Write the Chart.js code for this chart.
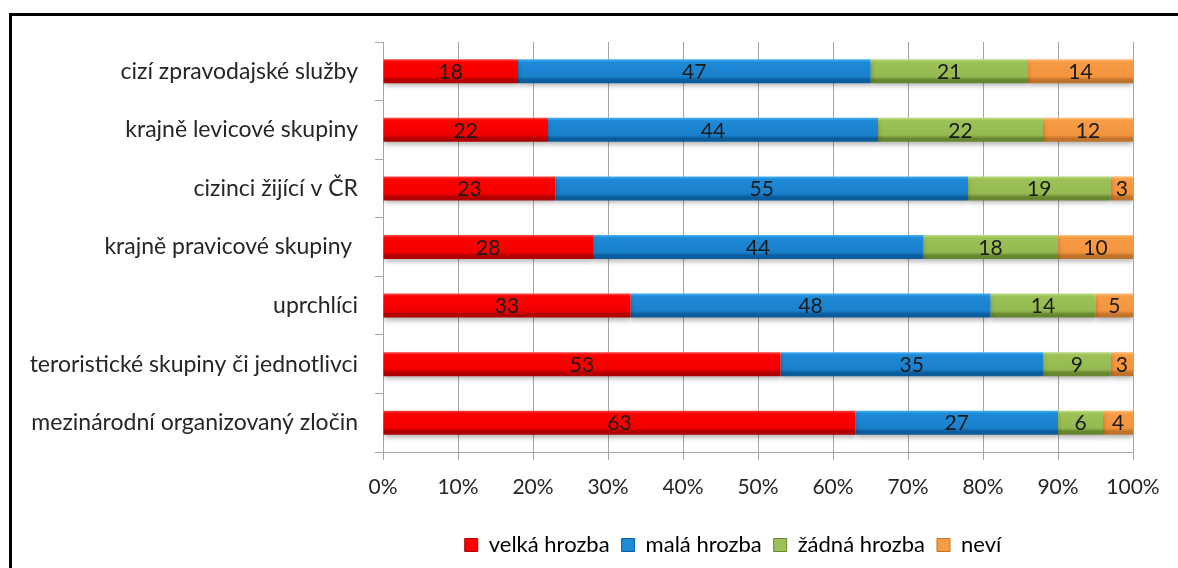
<!DOCTYPE html>
<html>
<head>
<meta charset="utf-8">
<script src="https://cdn.jsdelivr.net/npm/chart.js@4"></script>
<style>
  html, body { margin: 0; padding: 0; background: #fff; }
  #wrap { position: relative; width: 1178px; height: 568px; }
</style>
</head>
<body>
<div id="wrap"><canvas id="myChart" width="1178" height="568"></canvas></div>
<script>
const categories = [
  'cizí zpravodajské služby',
  'krajně levicové skupiny',
  'cizinci žijící v ČR',
  'krajně pravicové skupiny ',
  'uprchlíci',
  'teroristické skupiny či jednotlivci',
  'mezinárodní organizovaný zločin'
];
const seriesNames = ['velká hrozba', 'malá hrozba', 'žádná hrozba', 'neví'];
const velka = [18, 22, 23, 28, 33, 53, 63];
const mala = [47, 44, 55, 44, 48, 35, 27];
const zadna = [21, 22, 19, 18, 14, 9, 6];
const nevi = [14, 12, 3, 10, 5, 3, 4];
const xTicks = [0, 10, 20, 30, 40, 50, 60, 70, 80, 90, 100];

const FONT = 'Lato';

// top / body / bottom colours for the bevelled Excel look
const palette = [
  ['#ff4646', '#ff0000', '#f20000', '#b00000'],
  ['#44b0f4', '#1e8ad8', '#1a80cc', '#0b5c9c'],
  ['#bcdc82', '#9cc257', '#94b950', '#66862f'],
  ['#fcc07a', '#f89b45', '#f4943e', '#c0732a']
];

function barFill(i){
  return function(ctx){
    const p = palette[i];
    if (ctx.type !== 'data') return p[1];
    const y = ctx.chart.scales.y;
    if (!y || y.top === undefined) return p[1];
    const yc = y.getPixelForValue(ctx.dataIndex);
    const g = ctx.chart.ctx.createLinearGradient(0, yc - 12, 0, yc + 12);
    g.addColorStop(0, p[0]);
    g.addColorStop(0.12, p[1]);
    g.addColorStop(0.72, p[2]);
    g.addColorStop(0.86, p[3]);
    g.addColorStop(1, p[3]);
    return g;
  };
}

const values = [velka, mala, zadna, nevi];

const data = {
  labels: categories,
  datasets: values.map((v, i) => ({
    label: seriesNames[i],
    data: v,
    backgroundColor: barFill(i),
    borderWidth: 0,
    barPercentage: 0.41,
    categoryPercentage: 1
  }))
};

// frame, shadows, value labels, legend shift
const extras = {
  id: 'extras',
  afterLayout(chart){
    // legend sits centred between x=333 and the plot's right edge, like the original
    if (chart.legend) {
      chart.legend.left = 333;
      chart.legend.right = chart.chartArea.right;
    }
  },
  beforeDraw(chart){
    const c = chart.ctx;
    c.save();
    c.fillStyle = '#000';
    c.fillRect(9, 13, 1178, 3);
    c.fillRect(9, 13, 3, 568);
    c.restore();
  },
  beforeDatasetsDraw(chart){
    const c = chart.ctx;
    c.save();
    c.shadowColor = 'rgba(0,0,0,0.3)';
    c.shadowOffsetY = 3;
    c.shadowBlur = 5;
  },
  afterDatasetsDraw(chart){
    const c = chart.ctx;
    c.restore();
    c.save();
    c.font = '21px ' + FONT;
    c.fillStyle = '#1a1a1a';
    c.textAlign = 'center';
    c.textBaseline = 'middle';
    chart.data.datasets.forEach((ds, di) => {
      chart.getDatasetMeta(di).data.forEach((bar, i) => {
        const cx = (bar.x + bar.base) / 2;
        c.fillText(ds.data[i], cx, bar.y + 1);
      });
    });
    c.restore();
  }
};

const config = {
  type: 'bar',
  data,
  options: {
    indexAxis: 'y',
    responsive: false,
    animation: false,
    layout: { padding: { top: 42, left: 10, right: 45, bottom: 2 } },
    scales: {
      x: {
        stacked: true,
        min: 0,
        max: 100,
        afterBuildTicks(scale){ scale.ticks = xTicks.map(v => ({ value: v })); },
        afterFit(scale){ scale.height = 70; },
        border: { color: '#a6a6a6' },
        grid: { color: '#a6a6a6', tickLength: 8, drawTicks: true },
        ticks: {
          padding: 15,
          color: '#262626',
          font: { family: FONT, size: 21 },
          callback: v => v + '%'
        }
      },
      y: {
        stacked: true,
        afterFit(scale){ scale.width = 373; },
        border: { color: '#a6a6a6' },
        grid: { offset: true, drawOnChartArea: false, color: '#a6a6a6', tickLength: 8 },
        ticks: {
          padding: 17,
          color: '#262626',
          font: { family: FONT, size: 23 }
        }
      }
    },
    plugins: {
      legend: {
        position: 'bottom',
        labels: {
          boxWidth: 13,
          boxHeight: 13,
          padding: 12,
          color: '#262626',
          font: { family: FONT, size: 22 },
          generateLabels(chart){
            return chart.data.datasets.map((ds, i) => ({
              text: ds.label,
              fillStyle: palette[i][1],
              strokeStyle: palette[i][3],
              lineWidth: 1,
              hidden: false,
              datasetIndex: i
            }));
          }
        }
      },
      tooltip: { enabled: false }
    }
  },
  plugins: [extras]
};

const myChart = new Chart(document.getElementById('myChart'), config);
</script>
</body>
</html>
